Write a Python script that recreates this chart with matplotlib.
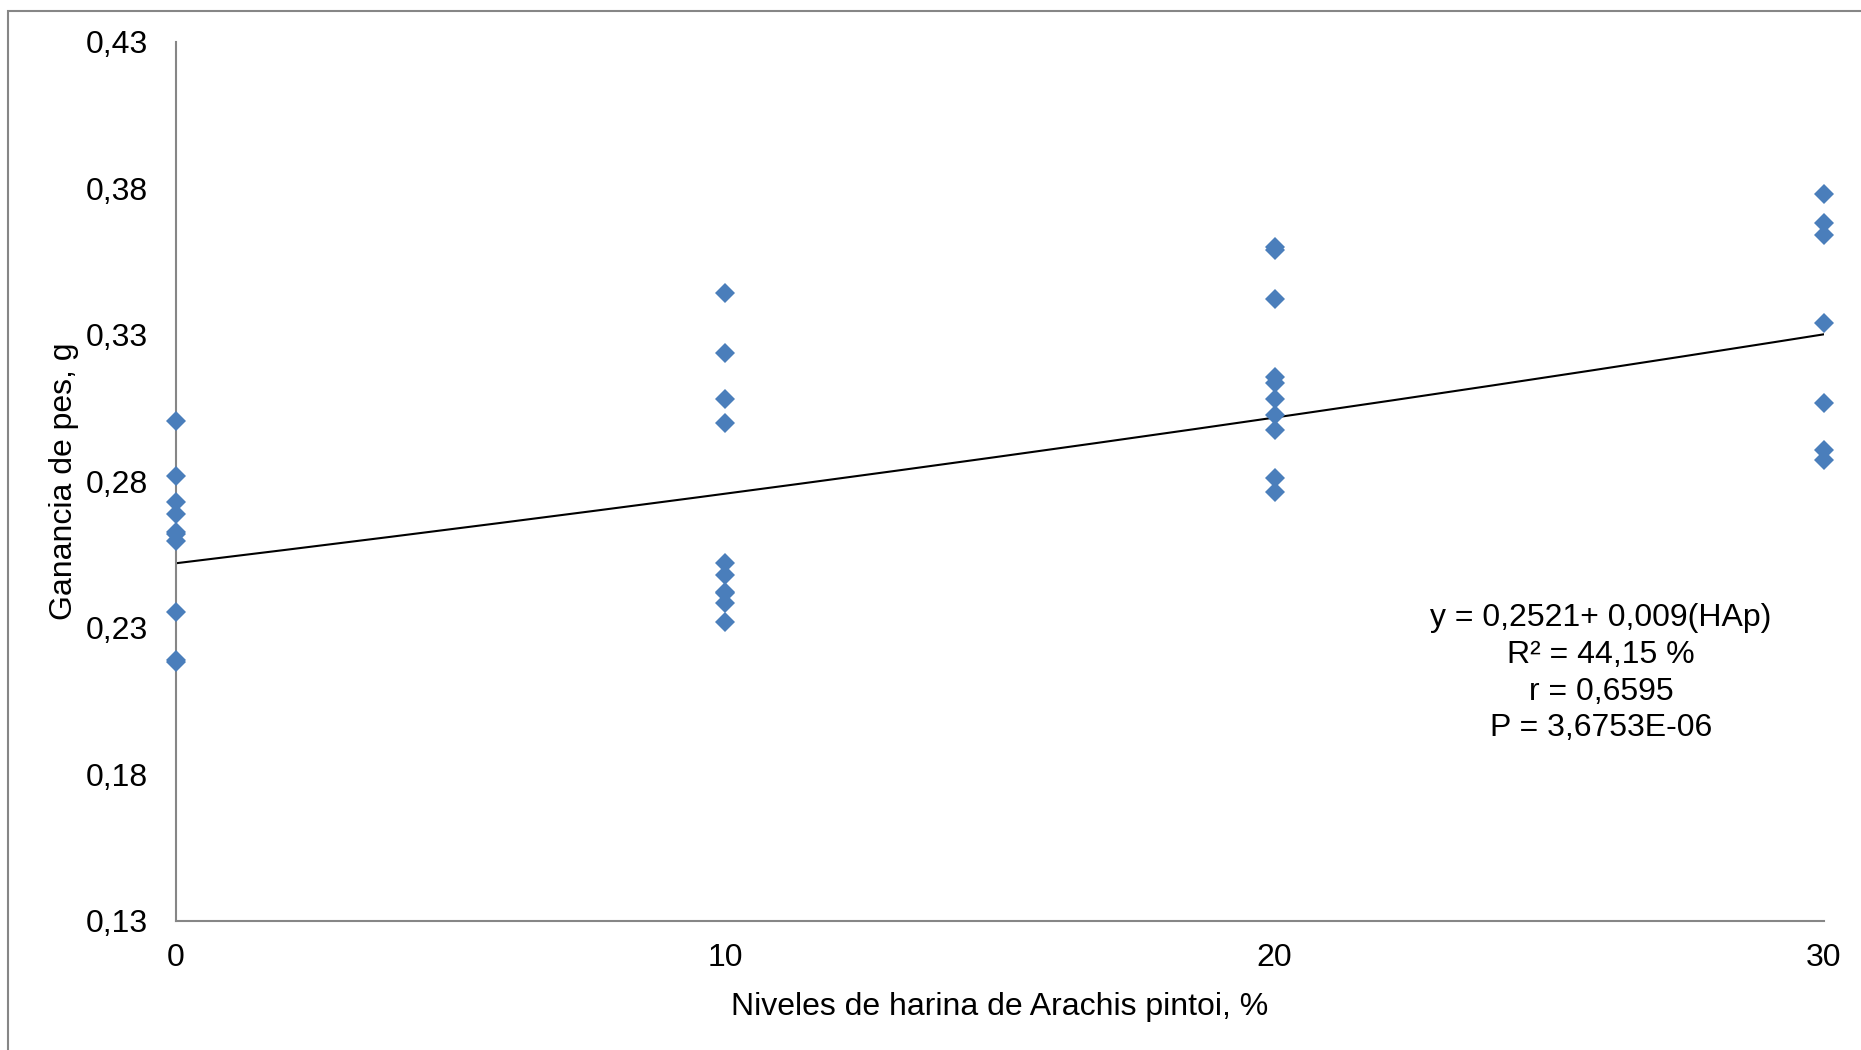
import numpy as np
import matplotlib
matplotlib.use('Agg')
import matplotlib.pyplot as plt
from matplotlib.patches import Rectangle
from matplotlib.ticker import FuncFormatter

plt.rcParams['font.family'] = ['Liberation Sans', 'DejaVu Sans']

# Ganancia de peso por nivel de harina de Arachis pintoi (%)
nivel_0 = [0.3007, 0.2820, 0.2731, 0.2689, 0.2629, 0.2620, 0.2598, 0.2356, 0.2190, 0.2185]
nivel_10 = [0.3442, 0.3240, 0.3081, 0.3001, 0.2521, 0.2481, 0.2422, 0.2418, 0.2384, 0.2322]
nivel_20 = [0.3601, 0.3590, 0.3422, 0.3158, 0.3135, 0.3081, 0.3027, 0.2976, 0.2811, 0.2765]
nivel_30 = [0.3781, 0.3683, 0.3641, 0.3342, 0.3069, 0.2908, 0.2873]
niveles = [0, 10, 20, 30]

# línea de tendencia exponencial: y = a * exp(b * HAp)
coef_a = 0.2521
coef_b = 0.009

y_ticks = [0.13, 0.18, 0.23, 0.28, 0.33, 0.38, 0.43]
x_ticks = [0, 10, 20, 30]

ecuacion = 'y = 0,2521+ 0,009(HAp)\nR² = 44,15 %\nr = 0,6595\nP = 3,6753E-06'

azul = '#4a7ebb'
gris = '#868686'

fig = plt.figure(figsize=(18.61, 10.5), dpi=100)
ax = fig.add_axes([176 / 1861, 1 - 921 / 1050, 1648 / 1861, 879 / 1050])

grupos = [nivel_0, nivel_10, nivel_20, nivel_30]
for nivel, valores in zip(niveles, grupos):
    ax.plot([nivel] * len(valores), valores, linestyle='none', marker='D',
            markersize=10, color=azul, markeredgewidth=0, clip_on=False, zorder=3)

xs = np.linspace(0, 30, 200)
ax.plot(xs, coef_a * np.exp(coef_b * xs), color='black', linewidth=1.5, zorder=2)

ax.set_xlim(0, 30)
ax.set_ylim(0.13, 0.43)
ax.set_xticks(x_ticks)
ax.set_yticks(y_ticks)
ax.yaxis.set_major_formatter(FuncFormatter(lambda v, p: f'{v:.2f}'.replace('.', ',')))
ax.tick_params(axis='both', length=0, labelsize=23)
ax.tick_params(axis='y', pad=20)
ax.tick_params(axis='x', pad=16)

for lado in ['top', 'right']:
    ax.spines[lado].set_visible(False)
for lado in ['left', 'bottom']:
    ax.spines[lado].set_color(gris)
    ax.spines[lado].set_linewidth(1.5)

ax.set_xlabel('Niveles de harina de Arachis pintoi, %', fontsize=23, va='center')
ax.xaxis.set_label_coords(0.5, -0.098)
ax.set_ylabel('Ganancia de pes, g', fontsize=23, va='center')
ax.yaxis.set_label_coords(-0.068, 0.5)

ax.text(0.8647, 0.282, ecuacion, transform=ax.transAxes, ha='center', va='center',
        multialignment='center', fontsize=23, linespacing=1.3)

# marco exterior del gráfico
marco = Rectangle((8 / 1861, -0.5), 2, 1.5 - 11 / 1050, transform=fig.transFigure,
                  fill=False, edgecolor=gris, linewidth=1.5)
fig.patches.append(marco)

fig.savefig('out.png', dpi=100)
